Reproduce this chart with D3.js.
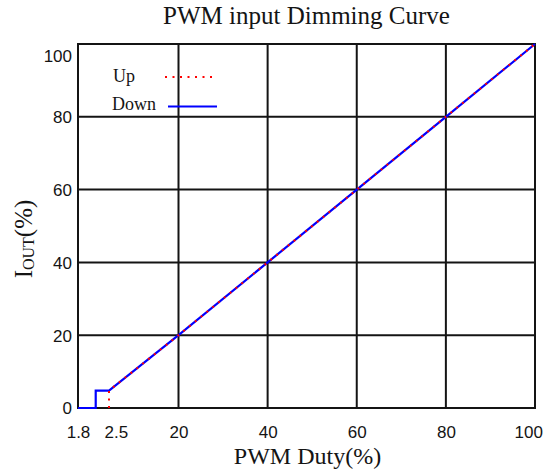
<!DOCTYPE html>
<html>
<head>
<meta charset="utf-8">
<script src="https://cdn.jsdelivr.net/npm/d3@7"></script>
<style>
  html, body { margin: 0; padding: 0; background: #fff; }
  svg { display: block; }
</style>
</head>
<body>
<svg id="chart" width="549" height="474"></svg>
<script>
// ---- data ----
const xTickValues = [1.8, 2.5, 20, 40, 60, 80, 100];
const xTickLabels = ["1.8", "2.5", "20", "40", "60", "80", "100"];
const yTickValues = [0, 20, 40, 60, 80, 100];
const yTickLabels = ["0", "20", "40", "60", "80", "100"];
const xGrid = [20, 40, 60, 80];
const yGrid = [20, 40, 60, 80];

const seriesNames = ["Up", "Down"];
const upDuty    = [2.5, 2.5, 20, 40, 60, 80, 100];
const upOut     = [0, 4.8, 20, 40, 60, 80, 100];
const downDuty  = [1.8, 2.2, 2.2, 2.5, 20, 40, 60, 80, 100];
const downOut   = [0, 0, 4.8, 4.8, 20, 40, 60, 80, 100];

// ---- layout ----
const svg = d3.select("#chart");
const L = 78, R = 535, T = 44, B = 408;

// piecewise-linear duty axis (as in the original: low-duty region expanded)
const x = d3.scaleLinear()
  .domain([1.8, 2.5, 20, 100])
  .range([L, 109, 178.5, R]);
const y = d3.scaleLinear().domain([0, 100]).range([B, T]);

const ink = "#141414";

// grid
const g = svg.append("g");
g.selectAll("line.vx").data(xGrid).join("line")
  .attr("x1", d => x(d)).attr("x2", d => x(d))
  .attr("y1", y(0)).attr("y2", y(100))
  .attr("stroke", ink).attr("stroke-width", 2);
g.selectAll("line.hy").data(yGrid).join("line")
  .attr("y1", d => y(d)).attr("y2", d => y(d))
  .attr("x1", x(1.8)).attr("x2", x(100))
  .attr("stroke", ink).attr("stroke-width", 2);
g.append("rect")
  .attr("x", x(1.8)).attr("y", y(100))
  .attr("width", x(100) - x(1.8)).attr("height", y(0) - y(100))
  .attr("fill", "none").attr("stroke", ink).attr("stroke-width", 2);

// axes (labels only)
const xAxis = d3.axisBottom(x).tickValues(xTickValues)
  .tickFormat((d, i) => xTickLabels[i]).tickSize(0).tickPadding(0);
const xa = svg.append("g").attr("transform", `translate(0,${B})`).call(xAxis);
xa.select(".domain").remove();
xa.selectAll("text")
  .attr("font-family", "Liberation Sans, Arial, sans-serif")
  .attr("font-size", 17).attr("fill", ink)
  .attr("y", 0).attr("dy", "1.79em")
  .attr("dx", (d, i) => i === xTickValues.length - 1 ? "-0.4em" : (d === 2.5 ? "0.4em" : "0"));

const yAxis = d3.axisLeft(y).tickValues(yTickValues)
  .tickFormat((d, i) => yTickLabels[i]).tickSize(0).tickPadding(6);
const ya = svg.append("g").attr("transform", `translate(${L},0)`).call(yAxis);
ya.select(".domain").remove();
ya.selectAll("text")
  .attr("font-family", "Liberation Sans, Arial, sans-serif")
  .attr("font-size", 17).attr("fill", ink)
  .attr("dy", d => d === 100 ? "1.05em" : "0.35em");

// lines
const line = d3.line().x(d => x(d[0])).y(d => y(d[1]));
const downPts = downDuty.map((d, i) => [d, downOut[i]]);
const upPts = upDuty.map((d, i) => [d, upOut[i]]);

svg.append("path").datum(downPts).attr("d", line)
  .attr("fill", "none").attr("stroke", "#0000ff").attr("stroke-width", 2.2);
svg.append("path").datum(upPts).attr("d", line)
  .attr("fill", "none").attr("stroke", "#ff0000").attr("stroke-width", 2)
  .attr("stroke-dasharray", "2,5.5");

// legend
const legendStyle = [
  { color: "#ff0000", dash: "2,5.5", tx: 113, ty: 82, lx1: 165, lx2: 213, ly: 77 },
  { color: "#0000ff", dash: null,   tx: 112, ty: 110, lx1: 168, lx2: 217, ly: 106.5 }
];
seriesNames.forEach((name, i) => {
  const s = legendStyle[i];
  svg.append("text").attr("x", s.tx).attr("y", s.ty)
    .attr("font-family", "Liberation Serif, Times New Roman, serif")
    .attr("font-size", 18).attr("fill", ink).text(name);
  svg.append("line").attr("x1", s.lx1).attr("x2", s.lx2)
    .attr("y1", s.ly).attr("y2", s.ly)
    .attr("stroke", s.color).attr("stroke-width", 2.2)
    .attr("stroke-dasharray", s.dash);
});

// title
svg.append("text").attr("x", (L + R) / 2).attr("y", 24)
  .attr("text-anchor", "middle")
  .attr("font-family", "Liberation Serif, Times New Roman, serif")
  .attr("font-size", 25).attr("fill", ink)
  .text("PWM input Dimming Curve");

// x label
svg.append("text").attr("x", (L + R) / 2 + 1).attr("y", 464)
  .attr("text-anchor", "middle")
  .attr("font-family", "Liberation Serif, Times New Roman, serif")
  .attr("font-size", 24).attr("fill", ink)
  .text("PWM Duty(%)");

// y label with subscript
const yl = svg.append("text")
  .attr("transform", `translate(31.5,239) rotate(-90)`)
  .attr("text-anchor", "middle")
  .attr("font-family", "Liberation Serif, Times New Roman, serif")
  .attr("font-size", 25).attr("fill", ink);
yl.append("tspan").text("I");
yl.append("tspan").attr("font-size", 16).attr("dy", 2).text("OUT");
yl.append("tspan").attr("dy", -2).text("(%)");
</script>
</body>
</html>
